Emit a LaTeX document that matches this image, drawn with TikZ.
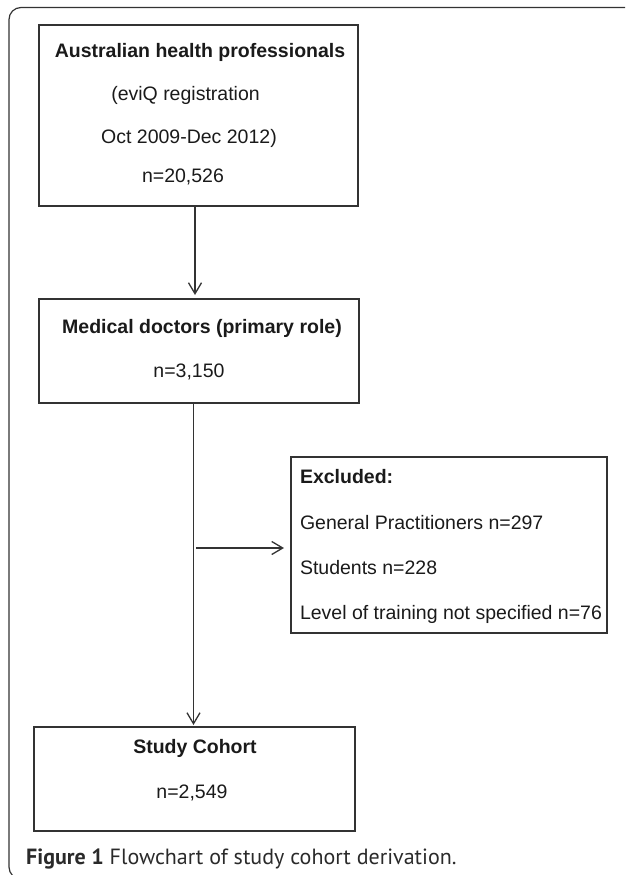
\documentclass[tikz,border=0pt]{standalone}
\usepackage{fontspec}
\setmainfont{Liberation Sans}
\newfontfamily\capfont{PT Sans}
\usetikzlibrary{arrows.meta}
\definecolor{linec}{HTML}{333333}
\definecolor{textc}{HTML}{1A1A1A}
\definecolor{capc}{HTML}{2A2A2A}
\begin{document}
\begin{tikzpicture}[x=1pt,y=-1pt,
  box/.style={draw=linec, line width=1.3pt, inner sep=0pt, outer sep=0pt, anchor=north west, rectangle},
  txt/.style={inner sep=0pt, outer sep=0pt, anchor=base, text=textc, font=\fontsize{19.5}{23}\selectfont},
  btxt/.style={txt, font=\fontsize{19.5}{23}\selectfont\bfseries},
  ltxt/.style={txt, anchor=base west},
  arr/.style={draw=linec, line width=1.3pt, -{Straight Barb[length=11pt,width=13pt,line width=1.3pt]}}
]
\useasboundingbox (0,0) rectangle (625,875);
\clip (0,0) rectangle (625,875);
\draw[linec, line width=1.2pt, rounded corners=12pt] (9,7.5) rectangle (660,879);

\node[box, minimum width=319pt, minimum height=181pt] (b1) at (39,25) {};
\node[box, minimum width=320pt, minimum height=104pt] (b2) at (39,299) {};
\node[box, minimum width=316pt, minimum height=176pt] (ex) at (291,457) {};
\node[box, minimum width=321pt, minimum height=104pt] (b3) at (34,727) {};

\node[btxt] (t1) at (200,57) {Australian health professionals};
\node[txt] (t2) at (185.5,100) {(eviQ registration};
\node[txt] (t3) at (189,143) {Oct 2009-Dec 2012)};
\node[txt] (t4) at (183,182) {n=20,526};
\node[btxt] (t5) at (202,333) {Medical doctors (primary role)};
\node[txt] (t6) at (189,377) {n=3,150};
\node[ltxt, font=\fontsize{19.5}{23}\selectfont\bfseries] (t7) at (300,483) {Excluded:};
\node[ltxt] (t8) at (300,529) {General Practitioners n=297};
\node[ltxt] (t9) at (300,574) {Students n=228};
\node[ltxt] (t10) at (300,619) {Level of training not specified n=76};
\node[btxt] (t11) at (195,753) {Study Cohort};
\node[txt] (t12) at (192,798) {n=2,549};

\coordinate (c1) at (195,0);
\coordinate (c2) at (193.5,0);
\coordinate (j) at (196,548);
\draw[arr, shorten >=4pt] (b1.south -| c1) -- (b2.north -| c1);
\draw[arr, shorten >=2pt] (b2.south -| c2) -- (b3.north -| c2);
\draw[arr, shorten >=7pt] (j) -- (ex.west |- j);

\node[anchor=base west, inner sep=0pt, text=capc, font=\capfont\fontsize{22}{24}\selectfont] (cap) at (26,864) {\textbf{Figure 1} Flowchart of study cohort derivation.};
\end{tikzpicture}
\end{document}
